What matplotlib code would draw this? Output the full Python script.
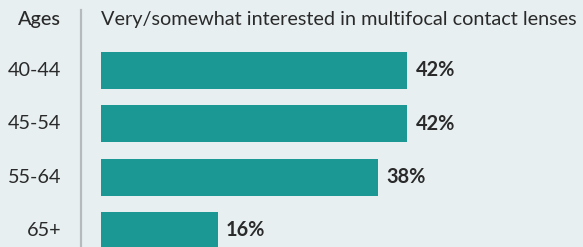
import matplotlib
matplotlib.use("Agg")
import matplotlib.pyplot as plt
from matplotlib.transforms import blended_transform_factory

categories = ["40-44", "45-54", "55-64", "65+"]
values = [42, 42, 38, 16]
title = "Very/somewhat interested in multifocal contact lenses"
axis_label = "Ages"

W, H = 583, 247
BG = "#e7eff1"
BAR = "#1b9794"
TXT = "#2a2a2a"

fig = plt.figure(figsize=(W / 100, H / 100), dpi=100, facecolor=BG)
px_per_pct = 7.29
left_px = 101
ax = fig.add_axes([left_px / W, 0, 60 * px_per_pct / W, 1])
ax.set_facecolor(BG)
ax.set_xlim(0, 60)
pitch = 53.3
c0 = 70.5
ax.set_ylim((H - c0) / pitch, -c0 / pitch)
ax.axis("off")

ypos = list(range(len(categories)))
ax.barh(ypos, values, height=37 / pitch, color=BAR)

fam = ["Lato", "DejaVu Sans"]
fs = 14.3
for y, v in zip(ypos, values):
    ax.annotate(f"{v}%", (v, y), xytext=(6, 0), textcoords="offset points",
                va="center", ha="left", fontsize=fs, fontweight="bold",
                color=TXT, family=fam)

tr = blended_transform_factory(fig.transFigure, ax.transData)
for y, c in zip(ypos, categories):
    ax.text(61 / W, y, c, transform=tr, ha="right", va="center",
            fontsize=fs, color=TXT, family=fam)

y_head = (19 - c0) / pitch
ax.text(61 / W, y_head, axis_label, transform=tr, ha="right", va="center",
        fontsize=fs, color=TXT, family=fam, fontweight="medium")
ax.text(0, y_head, title, ha="left", va="center", fontsize=fs,
        color=TXT, family=fam)

fig.add_artist(plt.Line2D([81 / W, 81 / W], [0, 1 - 10 / H],
                          transform=fig.transFigure, color="#b5babd", lw=1.6))

fig.savefig("out.png", dpi=100, facecolor=BG)
